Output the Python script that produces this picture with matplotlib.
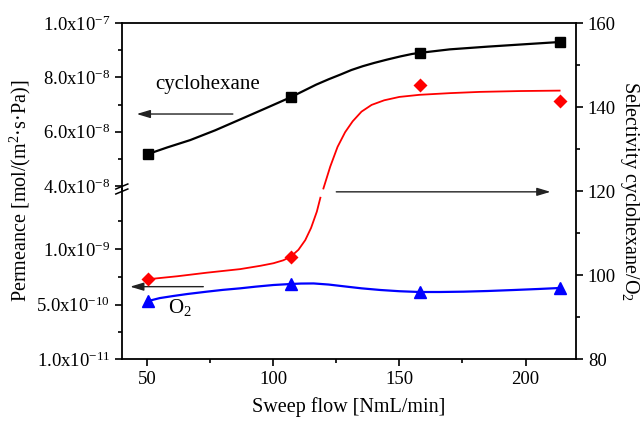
import numpy as np
import matplotlib
matplotlib.use('Agg')
import matplotlib.pyplot as plt
from matplotlib.lines import Line2D

plt.rcParams['font.family'] = ['Liberation Serif', 'DejaVu Serif']
plt.rcParams['mathtext.fontset'] = 'custom'
plt.rcParams['mathtext.rm'] = 'Liberation Serif'
plt.rcParams['mathtext.it'] = 'Liberation Serif:italic'
plt.rcParams['font.size'] = 13.5

# measured points
flow = [50.5, 107, 158, 213.5]
perm_cyclohexane = [5.18e-8, 7.27e-8, 8.90e-8, 9.30e-8]
perm_o2 = [5.32e-10, 6.85e-10, 6.13e-10, 6.49e-10]
selectivity = [99.0, 104.4, 145.2, 141.5]

# guide curves
cyc_curve_x = [50.5, 58, 67.1, 77, 86.9, 97, 107, 112, 117, 122, 126.6, 131, 135.5, 140, 145,
               150.4, 155, 158, 170, 185, 200, 213.5]
cyc_curve_y = [5.18e-8, 5.42e-8, 5.69e-8, 6.05e-8, 6.45e-8, 6.86e-8, 7.27e-8, 7.50e-8, 7.73e-8,
               7.93e-8, 8.10e-8, 8.27e-8, 8.41e-8, 8.53e-8, 8.65e-8, 8.77e-8, 8.86e-8, 8.90e-8,
               9.03e-8, 9.13e-8, 9.22e-8, 9.30e-8]

o2_curve_x = [50.5, 55, 60.4, 66, 73.7, 80, 86.9, 93, 100.1, 107, 111, 116.0, 122, 129.2, 135,
              142.5, 150, 158, 166, 175.5, 185, 195.4, 205, 213.5]
o2_curve_y = [5.32e-10, 5.58e-10, 5.77e-10, 5.95e-10, 6.16e-10, 6.32e-10, 6.46e-10, 6.61e-10,
              6.76e-10, 6.85e-10, 6.89e-10, 6.9e-10, 6.8e-10, 6.61e-10, 6.46e-10, 6.31e-10,
              6.2e-10, 6.13e-10, 6.13e-10, 6.16e-10, 6.22e-10, 6.31e-10, 6.4e-10, 6.49e-10]

sel_curve_x = [50.5, 62, 73.7, 86.9, 95, 100.1, 104, 107, 110, 112.7, 115, 117.3, 118.7, np.nan,
               119.9, 122.6, 125.5, 128.5, 131.5, 135, 139, 144, 150, 158, 170, 182, 198, 213.5]
sel_curve_y = [99.0, 99.7, 100.55, 101.4, 102.2, 102.8, 103.5, 104.4, 106.0, 108.3, 111.2, 115.1,
               118.4, np.nan, 120.6, 125.8, 130.5, 134.0, 136.6, 138.9, 140.5, 141.6, 142.4, 142.9,
               143.3, 143.6, 143.8, 143.9]

W, H = 643, 422
left, right, bottom, top, brk = 121.8 / W, 576 / W, 1 - 359 / H, 1 - 23 / H, 1 - 189 / H

fig = plt.figure(figsize=(W / 100, H / 100), dpi=100)
ax_lo = fig.add_axes([left, bottom, right - left, brk - bottom])
ax_hi = fig.add_axes([left, brk, right - left, top - brk])
ax_r = fig.add_axes([left, bottom, right - left, top - bottom])

for ax in (ax_lo, ax_hi, ax_r):
    ax.set_xlim(40, 220)
    ax.patch.set_visible(False)
    for s in ax.spines.values():
        s.set_linewidth(1.3)
    ax.tick_params(which='both', direction='out', width=1.2, labelsize=13.5)
    ax.tick_params(which='major', length=5)
    ax.tick_params(which='minor', length=3)

# lower left part (O2)
ax_lo.spines['top'].set_visible(False)
ax_lo.spines['right'].set_visible(False)
ax_lo.set_ylim(1e-11, 1.54e-9)
ax_lo.set_yticks([1e-11, 5e-10, 1e-9], [r'1.0x10$^{-11}$', r'5.0x10$^{-10}$', r'1.0x10$^{-9}$'])
ax_lo.set_yticks([2.55e-10, 7.5e-10, 1.25e-9], minor=True)
ax_lo.set_xticks([50, 100, 150, 200])
ax_lo.set_xticks([75, 125, 175], minor=True)
ax_lo.set_xlabel('Sweep flow [NmL/min]', fontsize=14.5, labelpad=7)

# upper left part (cyclohexane)
ax_hi.spines['bottom'].set_visible(False)
ax_hi.spines['right'].set_visible(False)
ax_hi.set_ylim(3.89e-8, 1e-7)
ax_hi.set_yticks([4e-8, 6e-8, 8e-8, 1e-7],
                 [r'4.0x10$^{-8}$', r'6.0x10$^{-8}$', r'8.0x10$^{-8}$', r'1.0x10$^{-7}$'])
ax_hi.set_yticks([5e-8, 7e-8, 9e-8], minor=True)
ax_hi.tick_params(axis='x', which='both', bottom=False, labelbottom=False)

# right axis (selectivity)
for s in ('left', 'top', 'bottom'):
    ax_r.spines[s].set_visible(False)
ax_r.yaxis.tick_right()
ax_r.yaxis.set_label_position('right')
ax_r.set_ylim(80, 160)
ax_r.set_yticks([80, 100, 120, 140, 160])
ax_r.set_yticks([90, 110, 130, 150], minor=True)
ax_r.tick_params(axis='x', which='both', bottom=False, labelbottom=False)
ax_r.set_ylabel('Selectivity cyclohexane/O$_2$', fontsize=14.5, rotation=270, labelpad=18)

fig.text(0.032, (bottom + top) / 2, 'Permeance [mol/(m$^2$·s·Pa)]', rotation=90,
         fontsize=14.5, ha='center', va='center')

# data
ax_hi.plot(cyc_curve_x, cyc_curve_y, color='black', lw=1.6)
ax_hi.plot(flow, perm_cyclohexane, 's', color='black', ms=7)
ax_lo.plot(o2_curve_x, o2_curve_y, color='#0000ff', lw=1.6)
ax_lo.plot(flow, perm_o2, '^', color='#0000ff', ms=8)
ax_r.plot(sel_curve_x, sel_curve_y, color='#ff0000', lw=1.3)
ax_r.plot(flow, selectivity, 'D', color='#ff0000', ms=7.5, mec='none')

# labels and arrows
arrow = dict(arrowstyle='-|>,head_length=0.6,head_width=0.18', color='#222222', lw=1.0,
             shrinkA=0, shrinkB=0)
ax_hi.annotate('', xy=(45.9, 6.65e-8), xytext=(84.0, 6.65e-8), arrowprops=arrow)
ax_hi.text(73.9, 7.72e-8, 'cyclohexane', fontsize=15, ha='center', va='center')
ax_r.annotate('', xy=(209.9, 119.8), xytext=(125.0, 119.8), arrowprops=arrow)
ax_lo.annotate('', xy=(43.3, 6.61e-10), xytext=(72.3, 6.61e-10), arrowprops=arrow)
ax_lo.text(63.1, 4.7e-10, 'O$_2$', fontsize=15, ha='center', va='center')

# axis break mark
for dy in (-2.5, 2.5):
    fig.add_artist(Line2D([left - 6 / W, left + 6 / W],
                          [brk - (dy + 2.5) / H, brk - (dy - 2.5) / H],
                          color='black', lw=1.1, transform=fig.transFigure))

fig.savefig('out.png', dpi=100)
